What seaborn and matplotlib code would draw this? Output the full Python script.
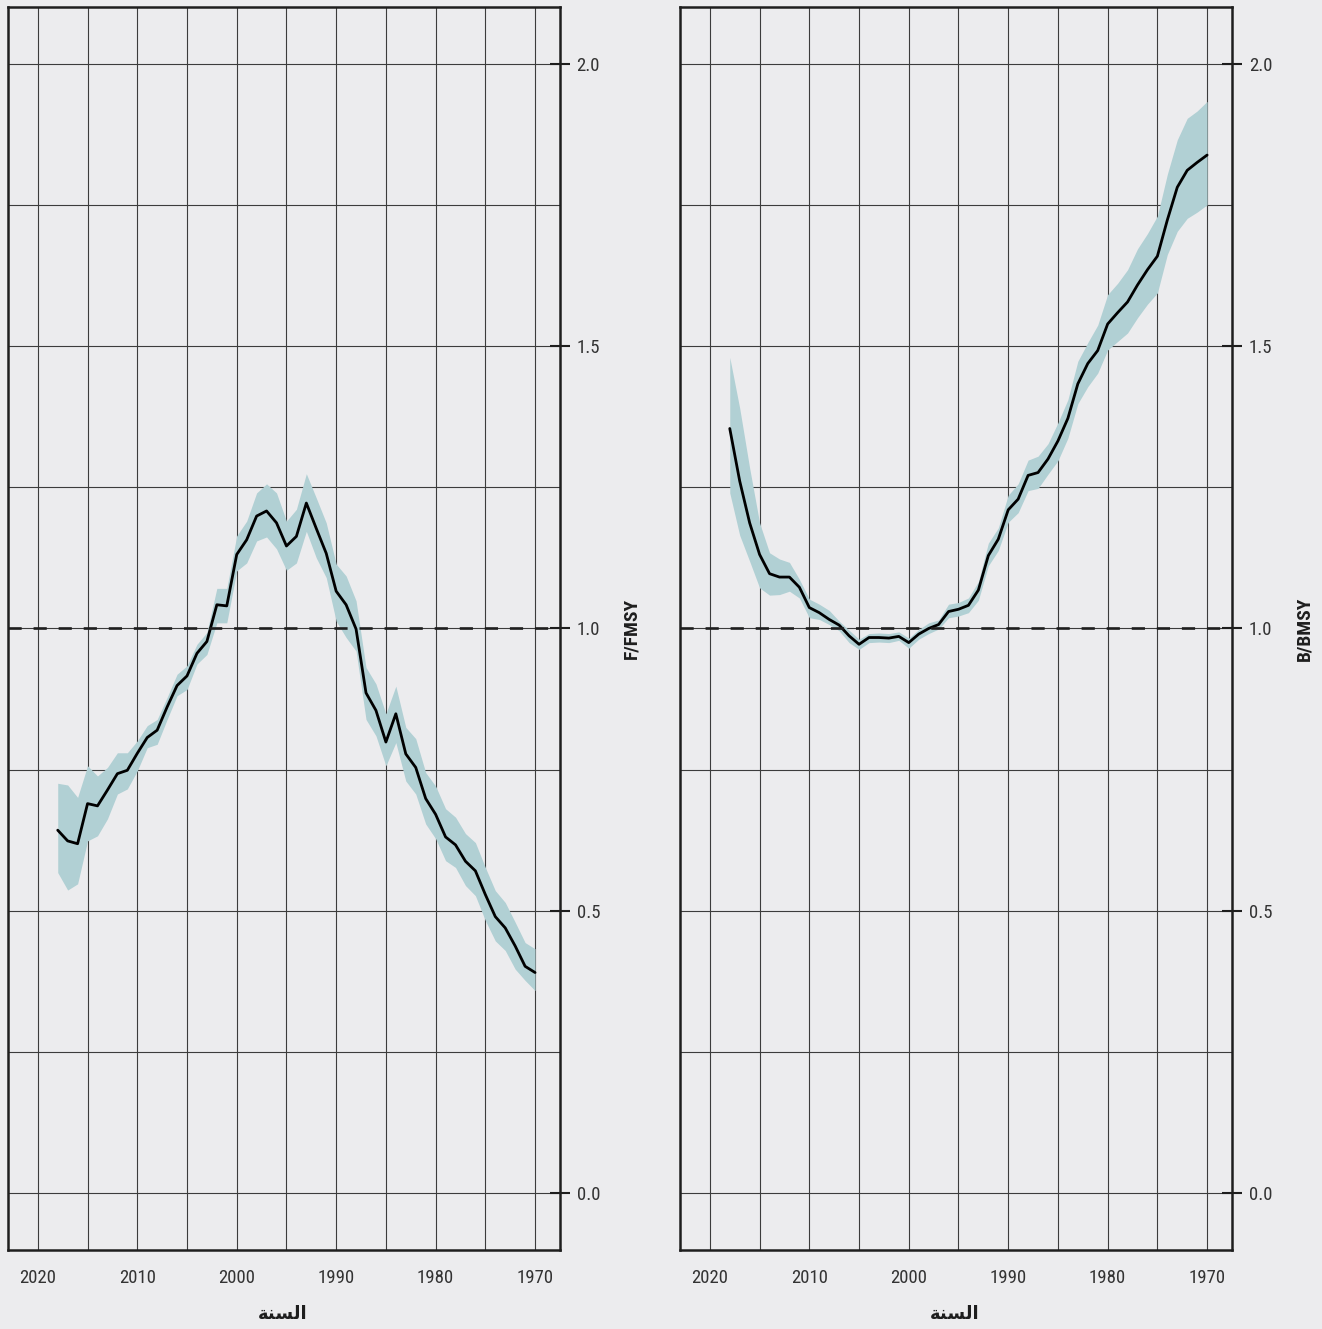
import matplotlib
matplotlib.use("Agg")
import matplotlib.pyplot as plt
from matplotlib import font_manager
from matplotlib.ticker import MultipleLocator
import numpy as np
import pandas as pd
import seaborn as sns

# ---- data -------------------------------------------------------------
years = list(range(2018, 1969, -1))

f_mid = [0.643, 0.624, 0.619, 0.690, 0.686, 0.714, 0.743, 0.749, 0.779, 0.807,
         0.820, 0.861, 0.899, 0.916, 0.956, 0.977, 1.042, 1.040, 1.131, 1.157,
         1.199, 1.208, 1.187, 1.146, 1.163, 1.222, 1.177, 1.133, 1.066, 1.042,
         0.999, 0.886, 0.855, 0.799, 0.849, 0.778, 0.754, 0.699, 0.671, 0.631,
         0.617, 0.588, 0.571, 0.529, 0.490, 0.470, 0.438, 0.402, 0.391]
f_hi = [0.726, 0.723, 0.701, 0.757, 0.739, 0.754, 0.780, 0.780, 0.801, 0.828,
        0.839, 0.878, 0.919, 0.934, 0.972, 0.993, 1.071, 1.071, 1.164, 1.190,
        1.240, 1.256, 1.240, 1.190, 1.211, 1.274, 1.231, 1.187, 1.114, 1.093,
        1.049, 0.931, 0.902, 0.849, 0.898, 0.825, 0.805, 0.745, 0.721, 0.681,
        0.666, 0.637, 0.621, 0.577, 0.536, 0.515, 0.480, 0.444, 0.433]
f_lo = [0.568, 0.537, 0.548, 0.624, 0.633, 0.663, 0.707, 0.716, 0.748, 0.789,
        0.795, 0.839, 0.881, 0.892, 0.937, 0.954, 1.010, 1.010, 1.102, 1.116,
        1.155, 1.162, 1.141, 1.103, 1.116, 1.172, 1.125, 1.090, 1.013, 0.984,
        0.960, 0.839, 0.810, 0.757, 0.798, 0.730, 0.707, 0.654, 0.628, 0.589,
        0.577, 0.545, 0.527, 0.483, 0.447, 0.430, 0.397, 0.377, 0.359]

b_mid = [1.354, 1.261, 1.187, 1.131, 1.097, 1.091, 1.091, 1.073, 1.037, 1.028,
         1.016, 1.006, 0.987, 0.972, 0.984, 0.984, 0.983, 0.986, 0.975, 0.990,
         1.000, 1.007, 1.030, 1.034, 1.041, 1.068, 1.129, 1.158, 1.210, 1.229,
         1.271, 1.276, 1.300, 1.332, 1.372, 1.433, 1.469, 1.492, 1.539, 1.559,
         1.578, 1.608, 1.635, 1.659, 1.723, 1.781, 1.811, 1.825, 1.838]
b_hi = [1.480, 1.390, 1.284, 1.187, 1.134, 1.123, 1.117, 1.087, 1.052, 1.043,
        1.032, 1.013, 0.997, 0.981, 0.991, 0.992, 0.991, 0.994, 0.983, 0.998,
        1.010, 1.015, 1.043, 1.046, 1.054, 1.083, 1.151, 1.178, 1.236, 1.256,
        1.298, 1.305, 1.327, 1.364, 1.405, 1.473, 1.506, 1.537, 1.591, 1.611,
        1.635, 1.672, 1.699, 1.730, 1.804, 1.865, 1.903, 1.916, 1.933]
b_lo = [1.240, 1.165, 1.119, 1.072, 1.059, 1.060, 1.066, 1.054, 1.019, 1.016,
        1.007, 0.996, 0.975, 0.963, 0.975, 0.976, 0.975, 0.979, 0.965, 0.981,
        0.991, 0.999, 1.019, 1.022, 1.028, 1.050, 1.111, 1.138, 1.188, 1.205,
        1.244, 1.248, 1.273, 1.297, 1.337, 1.398, 1.428, 1.452, 1.493, 1.508,
        1.523, 1.550, 1.574, 1.594, 1.662, 1.703, 1.726, 1.737, 1.750]

x_ticks = [2020, 2010, 2000, 1990, 1980, 1970]
y_ticks = [0.0, 0.5, 1.0, 1.5, 2.0]
y_labels = ["F/FMSY", "B/BMSY"]
# "السنة" written with pre-joined presentation forms, in visual order,
# because matplotlib does not apply Arabic shaping itself
x_label = "\uFE94\uFEE8\uFEB4\uFEDF\uFE8D"

# ---- style ------------------------------------------------------------
BG = "#ececee"
BAND = "#b1d0d4"
INK = "#1e1e1e"
GRID = "#3c3c3c"

sns.set_theme(style="white")
available = {f.name for f in font_manager.fontManager.ttflist}
preferred = ["Roboto Condensed", "Liberation Sans Narrow", "DejaVu Sans Condensed",
             "Roboto", "DejaVu Sans"]
base_font = [f for f in preferred if f in available][:1] + ["DejaVu Sans"]
plt.rcParams["font.family"] = base_font
plt.rcParams["axes.facecolor"] = BG
plt.rcParams["figure.facecolor"] = BG

fig = plt.figure(figsize=(13.22, 13.29), dpi=100)
ax_w, ax_h, ax_b = 0.4175, 0.9352, 0.0595
axes = [fig.add_axes([0.00605, ax_b, ax_w, ax_h]),
        fig.add_axes([0.5144, ax_b, ax_w, ax_h])]

series = [(f_mid, f_lo, f_hi), (b_mid, b_lo, b_hi)]

for ax, (mid, lo, hi), ylab in zip(axes, series, y_labels):
    df = pd.DataFrame({"year": years, "value": mid, "lo": lo, "hi": hi})
    ax.set_facecolor(BG)
    ax.fill_between(df["year"], df["lo"], df["hi"], color=BAND, lw=0, zorder=2)
    sns.lineplot(data=df, x="year", y="value", ax=ax, color="black",
                 lw=2.0, zorder=4, estimator=None, sort=False)
    ax.axhline(1.0, color=INK, lw=1.9, dashes=(5.0, 4.5), zorder=5)

    ax.set_xlim(2023.0, 1967.5)
    ax.set_ylim(-0.1, 2.1)

    ax.xaxis.set_minor_locator(MultipleLocator(5))
    ax.set_xticks(x_ticks)
    ax.set_xticklabels([str(t) for t in x_ticks])
    ax.set_yticks(y_ticks)
    ax.set_yticklabels([f"{t:.1f}" for t in y_ticks])
    ax.yaxis.set_minor_locator(MultipleLocator(0.25))

    ax.grid(True, which="both", color=GRID, lw=0.8, zorder=1)
    ax.set_axisbelow(True)

    ax.yaxis.tick_right()
    ax.tick_params(axis="both", which="major", direction="inout", length=14,
                   width=1.5, color=INK, labelsize=13.5, labelcolor="#333333")
    ax.tick_params(axis="x", which="major", pad=7)
    ax.tick_params(axis="y", which="major", pad=5)
    ax.tick_params(axis="both", which="minor", length=0)

    for s in ax.spines.values():
        s.set_visible(True)
        s.set_color(INK)
        s.set_linewidth(1.8)
        s.set_zorder(6)

    ax.set_xlabel(x_label, fontsize=13, fontweight="bold", color=INK,
                  family=["DejaVu Sans"])
    ax.xaxis.set_label_coords(0.498, -0.044)
    ax.yaxis.set_label_position("right")
    ax.set_ylabel(ylab, fontsize=14, fontweight="bold", color=INK, rotation=90)
    ax.yaxis.set_label_coords(1.114, 0.5)

fig.savefig("out.png", dpi=100, facecolor=BG)
